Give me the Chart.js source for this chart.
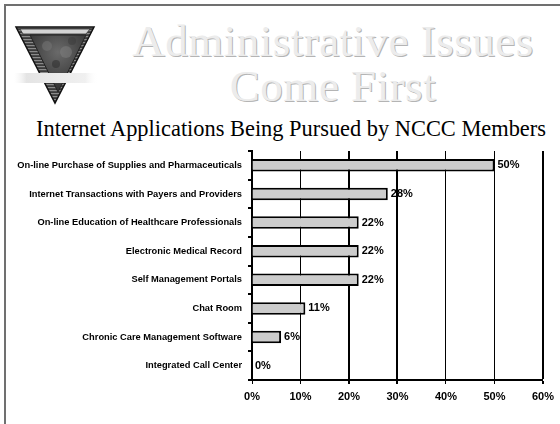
<!DOCTYPE html>
<html>
<head>
<meta charset="utf-8">
<script src="https://cdn.jsdelivr.net/npm/chart.js@4/dist/chart.umd.min.js"></script>
<style>
  html, body { margin: 0; padding: 0; background: #fff; }
  #wrap { position: relative; width: 560px; height: 424px; overflow: hidden; background: #fff; }
  #frame { position: absolute; left: 4px; top: 4px; width: 570px; height: 440px; border-left: 2px solid #707070; border-top: 2px solid #707070; }
  .t1 { position: absolute; left: 110px; width: 446px; text-align: center; font-family: "Liberation Serif", "Times New Roman", serif; font-size: 45px; color: #ececec; text-shadow: 1px 1px 0 #b4b4b4; white-space: nowrap; letter-spacing: 0.5px; }
  #sub { position: absolute; left: 0; width: 582px; top: 116px; text-align: center; font-family: "Liberation Serif", "Times New Roman", serif; font-size: 22.4px; color: #000; white-space: nowrap; }
  #logo { position: absolute; left: 14px; top: 24px; }
  canvas { position: absolute; left: 0; top: 0; }
</style>
</head>
<body>
<div id="wrap">
  <div id="frame"></div>
  <svg id="logo" width="84" height="82" viewBox="0 0 84 82">
    <defs>
      <linearGradient id="band" x1="0" x2="1" y1="0" y2="0">
        <stop offset="0" stop-color="#f4f4f4" stop-opacity="0"/>
        <stop offset="0.15" stop-color="#e4e4e4"/>
        <stop offset="0.85" stop-color="#f0f0f0"/>
        <stop offset="1" stop-color="#ffffff" stop-opacity="0"/>
      </linearGradient>
      <pattern id="stripe" width="4" height="3" patternUnits="userSpaceOnUse">
        <rect width="4" height="3" fill="#3a3a3a"/>
        <rect width="4" height="1.2" fill="#8a8a8a"/>
      </pattern>
      <radialGradient id="marble" cx="0.5" cy="0.3" r="0.7">
        <stop offset="0" stop-color="#6a6a6a"/>
        <stop offset="0.5" stop-color="#4c4c4c"/>
        <stop offset="1" stop-color="#303030"/>
      </radialGradient>
    </defs>
    <polygon points="2,3 80,3 41,79" fill="url(#stripe)" stroke="#111" stroke-width="1.5"/>
    <polygon points="6,5 76,5 72,10 9,10" fill="#d4d4d4" stroke="#333" stroke-width="0.8"/>
    <polygon points="16,11 72,11 44,68" fill="url(#marble)" stroke="#222" stroke-width="1"/>
    <circle cx="33" cy="22" r="5" fill="#777" opacity="0.5"/>
    <circle cx="52" cy="28" r="6" fill="#858585" opacity="0.45"/>
    <circle cx="42" cy="40" r="4" fill="#2a2a2a" opacity="0.5"/>
    <circle cx="58" cy="17" r="4" fill="#3a3a3a" opacity="0.5"/>
    <rect x="0" y="49" width="84" height="10" fill="url(#band)"/>
  </svg>
  <div class="t1" style="top:15px;">Administrative Issues</div>
  <div class="t1" style="top:60px;">Come First</div>
  <div id="sub">Internet Applications Being Pursued by NCCC Members</div>
  <canvas id="c" width="560" height="424"></canvas>
</div>
<script>
const categories = [
  "On-line Purchase of Supplies and Pharmaceuticals",
  "Internet Transactions with Payers and Providers",
  "On-line Education of Healthcare Professionals",
  "Electronic Medical Record",
  "Self Management Portals",
  "Chat Room",
  "Chronic Care Management Software",
  "Integrated Call Center"
];
const values = [50, 28, 22, 22, 22, 11, 6, 0];
const xTicks = [0, 10, 20, 30, 40, 50, 60];

const valueLabels = {
  id: 'valueLabels',
  afterDatasetsDraw(chart) {
    const ctx = chart.ctx;
    const meta = chart.getDatasetMeta(0);
    ctx.save();
    ctx.font = 'bold 11px "Liberation Sans", Arial, sans-serif';
    ctx.fillStyle = '#000';
    ctx.textBaseline = 'middle';
    ctx.textAlign = 'left';
    meta.data.forEach((bar, i) => {
      ctx.fillText(values[i] + '%', bar.x + 3, bar.y);
    });
    ctx.restore();
  }
};

new Chart(document.getElementById('c'), {
  type: 'bar',
  data: {
    labels: categories,
    datasets: [{
      data: values,
      backgroundColor: '#cccccc',
      borderColor: '#000',
      borderWidth: 2,
      borderSkipped: 'start',
      barPercentage: 0.44,
      categoryPercentage: 1.0
    }]
  },
  options: {
    indexAxis: 'y',
    responsive: false,
    animation: false,
    events: [],
    layout: { padding: { left: 4, right: 13, top: 151, bottom: 14 } },
    plugins: { legend: { display: false }, tooltip: { enabled: false } },
    scales: {
      x: {
        min: 0, max: 60,
        afterBuildTicks(axis) { axis.ticks = xTicks.map(v => ({ value: v })); },
        afterFit(axis) { axis.height = 30; },
        border: { color: '#000', width: 2 },
        grid: {
          color: '#000',
          lineWidth: (c) => ([20, 30, 60].includes(c.tick && c.tick.value) ? 2 : 1),
          tickLength: 4,
          drawTicks: true
        },
        ticks: {
          color: '#000',
          padding: 6,
          font: { family: '"Liberation Sans", Arial, sans-serif', size: 11, weight: 'bold' },
          callback: (v) => v + '%'
        }
      },
      y: {
        afterFit(axis) { axis.width = 248; },
        border: { color: '#000', width: 2 },
        grid: { offset: true, drawOnChartArea: false, color: '#000', lineWidth: 2, tickLength: 4 },
        ticks: {
          color: '#000',
          padding: 6,
          font: { family: '"Liberation Sans", Arial, sans-serif', size: 9.3, weight: 'bold' }
        }
      }
    }
  },
  plugins: [valueLabels]
});
</script>
</body>
</html>
